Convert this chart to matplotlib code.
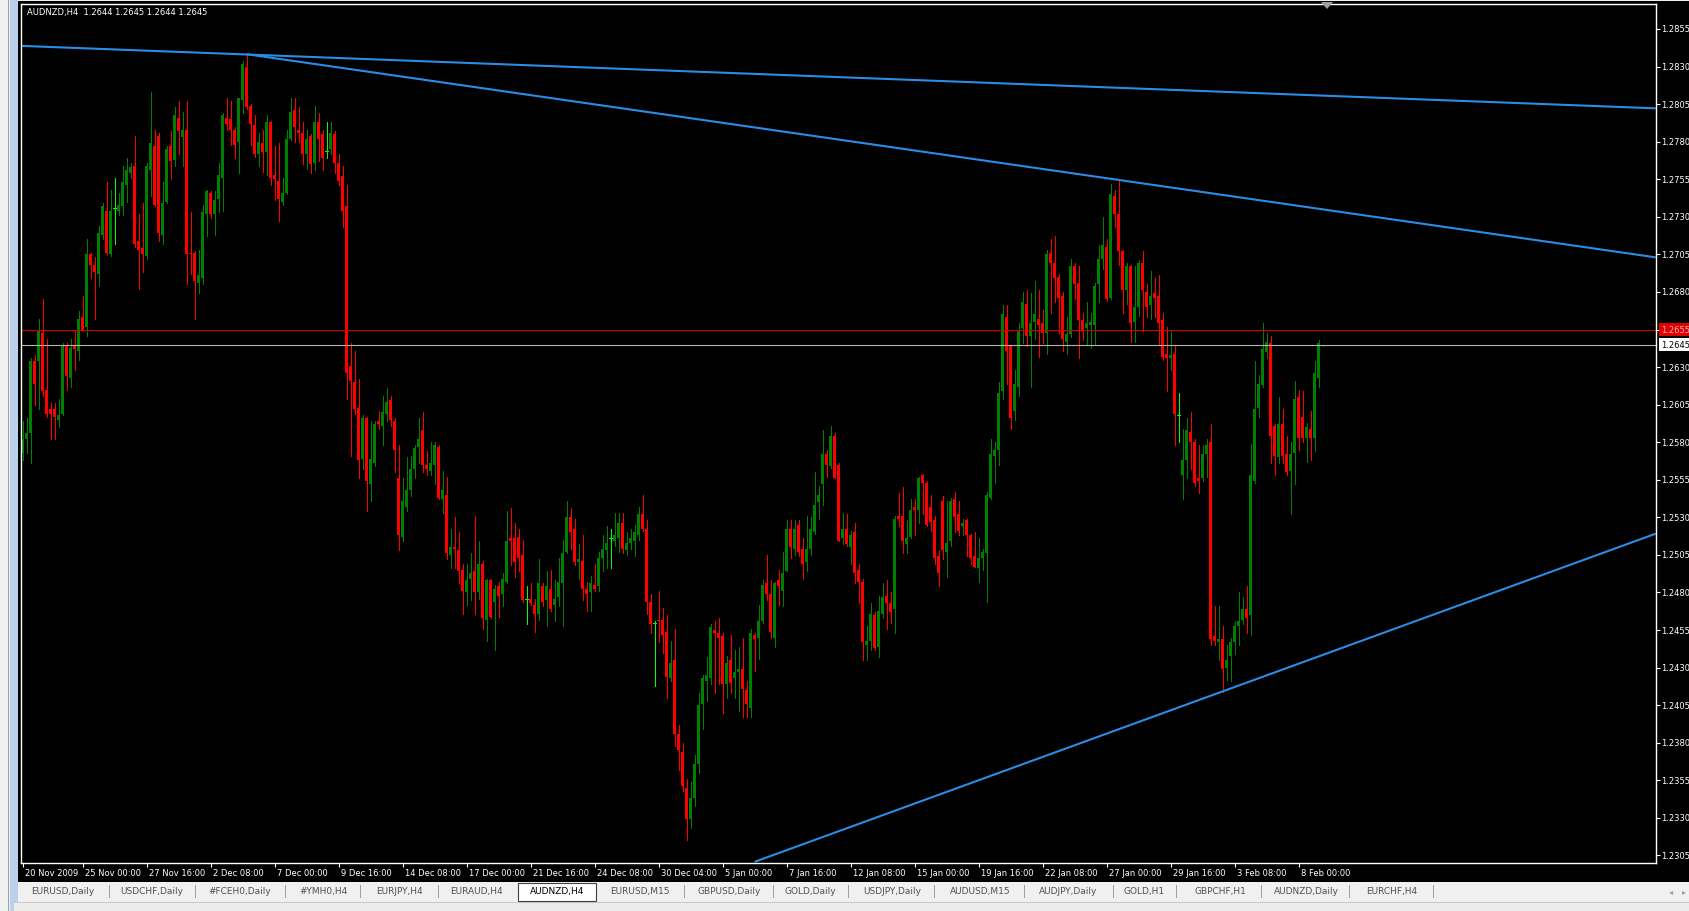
#Nachbau eines MT4-Charts AUDNZD H4 mit Trendlinien
import numpy as np
import matplotlib
matplotlib.use("Agg")
import matplotlib.pyplot as plt
from matplotlib.patches import Rectangle, Polygon
import matplotlib.transforms as mtransforms

# Kerzen in Pips (2575 = 1.2575)
opens = [
    2573,2582,2586,2634,2634,2653,2615,2602,2602,2595, 2599,2644,2623,2644,2641,2663,2657,2705,2698,2692,
    2718,2734,2705,2736,2734,2737,2751,2759,2764,2714, 2709,2704,2761,2777,2784,2718,2740,2777,2768,2796,
    2783,2788,2706,2706,2686,2689,2732,2746,2732,2742, 2756,2796,2795,2788,2780,2808,2830,2804,2791,2772,
    2779,2773,2793,2758,2754,2740,2746,2782,2801,2788, 2786,2772,2784,2766,2793,2785,2774,2775,2785,2766,
    2757,2737,2631,2620,2603,2569,2596,2552,2566,2594, 2591,2599,2608,2594,2556,2517,2537,2548,2562,2577,
    2588,2565,2561,2565,2577,2542,2545,2505,2510,2508, 2495,2480,2489,2494,2480,2499,2462,2488,2474,2484,
    2479,2487,2516,2516,2517,2505,2476,2476,2472,2466, 2484,2475,2482,2472,2477,2486,2507,2530,2522,2500,
    2501,2482,2480,2485,2484,2503,2508,2516,2514,2516, 2526,2508,2513,2514,2518,2532,2522,2474,2460,2462,
    2462,2454,2423,2435,2386,2374,2350,2329,2343,2366, 2406,2421,2423,2455,2453,2451,2419,2435,2423,2427,
    2429,2415,2403,2452,2450,2461,2486,2479,2450,2488, 2481,2494,2522,2509,2525,2509,2500,2509,2520,2540,
    2552,2572,2564,2584,2565,2516,2522,2510,2520,2495, 2487,2445,2448,2465,2444,2466,2478,2473,2469,2531,
    2531,2512,2517,2537,2535,2558,2553,2537,2528,2504, 2541,2507,2514,2542,2532,2524,2528,2518,2504,2496,
    2503,2506,2543,2571,2575,2614,2663,2644,2601,2617, 2656,2672,2651,2660,2662,2659,2653,2706,2699,2690,
    2677,2647,2652,2697,2686,2661,2656,2658,2658,2685, 2702,2710,2676,2744,2732,2707,2681,2697,2660,2670,
    2699,2680,2671,2679,2677,2661,2639,2636,2639,2598, 2558,2568,2587,2580,2556,2556,2572,2580,2451,2447,
    2449,2430,2438,2447,2458,2462,2469,2465,2554,2603, 2618,2640,2646,2591,2570,2592,2572,2561,2573,2610,
    2597,2583,2589,2583,2623,2644]
highs = [
    2594,2596,2636,2638,2662,2675,2649,2606,2606,2609, 2646,2646,2649,2655,2667,2677,2715,2706,2703,2724,
    2739,2753,2748,2756,2746,2764,2769,2766,2784,2732, 2739,2766,2813,2788,2786,2753,2777,2787,2803,2807,
    2800,2807,2733,2707,2708,2738,2748,2747,2747,2766, 2799,2809,2807,2790,2809,2834,2838,2805,2798,2786,
    2788,2798,2794,2777,2779,2756,2788,2809,2809,2803, 2793,2788,2785,2804,2799,2788,2793,2793,2787,2772,
    2764,2751,2646,2641,2622,2598,2597,2594,2594,2601, 2611,2616,2611,2596,2578,2556,2570,2571,2578,2596,
    2600,2574,2580,2580,2578,2561,2557,2522,2530,2520, 2499,2499,2506,2531,2514,2501,2489,2489,2485,2487,
    2493,2534,2536,2526,2522,2515,2484,2486,2476,2502, 2486,2494,2495,2488,2503,2515,2541,2536,2529,2512,
    2518,2487,2491,2499,2507,2518,2524,2522,2533,2533, 2533,2520,2522,2525,2537,2545,2528,2479,2461,2481,
    2470,2465,2448,2456,2392,2380,2356,2354,2372,2413, 2425,2437,2459,2461,2463,2453,2438,2452,2442,2444,
    2450,2421,2456,2453,2472,2488,2505,2488,2487,2495, 2507,2528,2528,2528,2528,2516,2531,2530,2560,2551,
    2588,2575,2591,2586,2566,2533,2532,2521,2526,2499, 2489,2458,2473,2467,2478,2486,2488,2480,2531,2546,
    2550,2528,2542,2542,2557,2559,2554,2545,2531,2508, 2544,2541,2543,2547,2541,2529,2529,2519,2520,2516,
    2509,2547,2582,2580,2620,2671,2671,2645,2628,2659, 2680,2681,2679,2687,2681,2668,2708,2715,2717,2692,
    2680,2663,2702,2699,2697,2666,2673,2666,2686,2711, 2730,2715,2752,2748,2754,2708,2699,2698,2697,2701,
    2707,2685,2694,2689,2691,2666,2657,2655,2644,2613, 2589,2596,2600,2582,2578,2578,2582,2592,2471,2471,
    2458,2445,2450,2461,2480,2477,2484,2579,2634,2625, 2659,2653,2651,2592,2610,2602,2584,2580,2621,2615,
    2614,2593,2601,2634,2648,2645]
lows = [
    2568,2573,2566,2605,2602,2611,2597,2582,2582,2590, 2598,2615,2617,2628,2635,2655,2651,2689,2662,2684,
    2715,2705,2704,2712,2731,2731,2740,2756,2710,2682, 2693,2702,2744,2737,2714,2712,2739,2755,2764,2772,
    2764,2685,2692,2662,2679,2685,2717,2729,2718,2733, 2734,2788,2778,2769,2759,2799,2802,2778,2770,2764,
    2760,2758,2751,2741,2727,2738,2745,2781,2780,2780, 2765,2762,2759,2761,2767,2761,2769,2772,2759,2751,
    2723,2609,2571,2599,2556,2562,2534,2541,2564,2589, 2578,2594,2591,2560,2508,2514,2534,2544,2556,2566,
    2560,2558,2558,2552,2542,2533,2502,2496,2496,2486, 2466,2472,2475,2466,2476,2456,2448,2463,2442,2464,
    2471,2486,2498,2490,2494,2474,2459,2472,2454,2462, 2471,2458,2468,2461,2471,2458,2506,2509,2498,2489,
    2475,2468,2468,2481,2481,2494,2496,2496,2511,2507, 2506,2505,2509,2504,2515,2521,2466,2453,2418,2447,
    2440,2410,2421,2378,2362,2348,2315,2323,2338,2360, 2389,2408,2419,2413,2419,2400,2410,2413,2410,2401,
    2397,2397,2397,2428,2436,2460,2475,2450,2444,2472, 2471,2494,2503,2505,2504,2489,2494,2505,2519,2529,
    2538,2557,2563,2556,2514,2512,2511,2499,2486,2473, 2435,2435,2442,2442,2437,2463,2456,2460,2453,2524,
    2506,2506,2516,2518,2526,2532,2524,2521,2499,2484, 2502,2490,2511,2520,2518,2518,2504,2499,2497,2487,
    2495,2474,2542,2553,2565,2609,2619,2589,2595,2611, 2646,2644,2617,2649,2637,2646,2639,2666,2673,2653,
    2641,2639,2650,2675,2636,2648,2645,2643,2645,2673, 2695,2674,2675,2723,2698,2666,2672,2647,2647,2664,
    2654,2663,2662,2663,2645,2635,2614,2628,2578,2580, 2542,2556,2562,2551,2546,2554,2557,2445,2445,2435,
    2414,2422,2421,2439,2445,2459,2453,2452,2553,2597, 2617,2636,2566,2558,2566,2566,2558,2532,2552,2575,
    2580,2567,2568,2574,2617,2644]
closes = [
    2582,2586,2634,2619,2655,2614,2599,2599,2597,2598, 2644,2624,2643,2642,2662,2655,2705,2698,2693,2719,
    2737,2706,2734,2736,2738,2753,2761,2763,2712,2708, 2705,2764,2779,2738,2719,2739,2775,2767,2798,2787,
    2788,2705,2705,2687,2691,2733,2747,2732,2741,2758, 2798,2792,2788,2778,2809,2832,2803,2792,2772,2780,
    2773,2793,2756,2755,2742,2746,2782,2800,2790,2786, 2772,2782,2765,2793,2782,2769,2774,2786,2766,2754,
    2734,2626,2621,2602,2568,2596,2554,2569,2592,2592, 2600,2607,2595,2575,2518,2541,2548,2562,2576,2582,
    2565,2562,2566,2578,2543,2548,2506,2510,2509,2494, 2481,2488,2493,2480,2499,2463,2488,2464,2482,2478,
    2489,2514,2514,2500,2503,2475,2476,2473,2466,2486, 2474,2484,2469,2476,2487,2506,2530,2520,2500,2502,
    2482,2479,2486,2482,2503,2509,2513,2516,2518,2526, 2509,2513,2516,2520,2532,2522,2474,2459,2460,2461,
    2452,2424,2433,2386,2375,2351,2329,2343,2366,2405, 2423,2425,2457,2453,2450,2419,2433,2420,2427,2429,
    2416,2406,2453,2449,2461,2485,2479,2454,2486,2484, 2493,2522,2510,2522,2507,2499,2509,2522,2538,2545,
    2572,2565,2584,2556,2514,2522,2512,2518,2493,2487, 2447,2448,2466,2443,2468,2477,2473,2467,2529,2529,
    2514,2516,2535,2535,2556,2553,2525,2527,2503,2493, 2508,2513,2541,2530,2521,2526,2518,2503,2497,2503,
    2507,2545,2572,2575,2613,2665,2641,2596,2619,2655, 2673,2651,2659,2665,2658,2653,2705,2699,2689,2676,
    2649,2652,2697,2685,2661,2654,2659,2660,2684,2702, 2711,2675,2745,2732,2707,2681,2697,2659,2670,2699,
    2681,2670,2677,2676,2659,2637,2636,2638,2599,2598, 2568,2588,2580,2553,2554,2572,2578,2449,2448,2449,
    2429,2435,2447,2458,2461,2469,2463,2558,2602,2619, 2642,2647,2584,2571,2592,2571,2560,2572,2609,2583,
    2583,2590,2583,2626,2646,2645]

# Zeitachse: Bar-Index und Beschriftung
date_bars = [0, 15, 31, 47, 63, 79, 95, 111, 127, 143, 159, 175, 191, 207, 223, 239, 255, 271, 287, 303, 319]
date_labels = ["20 Nov 2009", "25 Nov 00:00", "27 Nov 16:00", "2 Dec 08:00", "7 Dec 00:00", "9 Dec 16:00",
               "14 Dec 08:00", "17 Dec 00:00", "21 Dec 16:00", "24 Dec 08:00", "30 Dec 04:00", "5 Jan 00:00",
               "7 Jan 16:00", "12 Jan 08:00", "15 Jan 00:00", "19 Jan 16:00", "22 Jan 08:00", "27 Jan 00:00",
               "29 Jan 16:00", "3 Feb 08:00", "8 Feb 00:00"]
price_ticks = [1.2305, 1.2330, 1.2355, 1.2380, 1.2405, 1.2430, 1.2455, 1.2480, 1.2505, 1.2530, 1.2555, 1.2580,
               1.2605, 1.2630, 1.2655, 1.2680, 1.2705, 1.2730, 1.2755, 1.2780, 1.2805, 1.2830, 1.2855]

# Trendlinien: (Bar, Preis) Ankerpunkte
trend_top = [(0, 1.28437), (408, 1.28022)]
trend_mid = [(56, 1.28382), (408, 1.27031)]
trend_low = [(183, 1.23008), (408, 1.25189)]

ask_price = 1.2655
bid_price = 1.2645
title = "AUDNZD,H4  1.2644 1.2645 1.2644 1.2645"
tabs = ["EURUSD,Daily", "USDCHF,Daily", "#FCEH0,Daily", "#YMH0,H4", "EURJPY,H4", "EURAUD,H4", "AUDNZD,H4",
        "EURUSD,M15", "GBPUSD,Daily", "GOLD,Daily", "USDJPY,Daily", "AUDUSD,M15", "AUDJPY,Daily", "GOLD,H1",
        "GBPCHF,H1", "AUDNZD,Daily", "EURCHF,H4"]
active_tab = "AUDNZD,H4"

GREEN = "#008000"
RED = "#ff0000"
LIME = "#00ff00"
BLUE = "#2b8ce8"

W, H = 1690, 912
fig = plt.figure(figsize=(W / 100, H / 100), dpi=100, facecolor="#f0f0f0")


def px_rect(x0, y0, x1, y1, z=-5, **kw):
    # Rechteck in Pixelkoordinaten (y von oben)
    r = Rectangle((x0 / W, 1 - y1 / H), (x1 - x0) / W, (y1 - y0) / H, transform=fig.transFigure,
                  zorder=z, **kw)
    fig.add_artist(r)


def px_text(x, y, s, **kw):
    fig.text(x / W, 1 - y / H, s, zorder=5, **kw)


# Fensterrahmen
px_rect(10, 0, 18, H, fc="#b9d1ea", ec="none")
px_rect(8, 0, 9, H, fc="#a0a0a0", ec="none")
px_rect(18, 2, W, 883, fc="black", ec="none")

# Chartbereich
ax_l, ax_r, ax_t, ax_b = 21, 1655.7, 5, 864
ax = fig.add_axes([ax_l / W, 1 - ax_b / H, (ax_r - ax_l) / W, (ax_b - ax_t) / H])
ax.set_facecolor("black")
for s in ax.spines.values():
    s.set_color("white")
    s.set_linewidth(1)

o = 1 + np.array(opens) / 10000
h = 1 + np.array(highs) / 10000
l = 1 + np.array(lows) / 10000
c = 1 + np.array(closes) / 10000
x = np.arange(len(c))

up = c > o
dn = c < o
dj = c == o

ax.vlines(x[up], l[up], h[up], color=GREEN, lw=0.72, antialiased=False)
ax.vlines(x[dn], l[dn], h[dn], color=RED, lw=0.72, antialiased=False)
ax.vlines(x[dj], l[dj], h[dj], color=LIME, lw=0.72, antialiased=False)
ax.bar(x[up], c[up] - o[up], bottom=o[up], width=0.75, color=GREEN, linewidth=0, antialiased=False)
ax.bar(x[dn], o[dn] - c[dn], bottom=c[dn], width=0.75, color=RED, linewidth=0, antialiased=False)
ax.hlines(o[dj], x[dj] - 0.375, x[dj] + 0.375, color=LIME, lw=0.72, antialiased=False)

# Ask- und Bid-Linie
ax.axhline(ask_price, color="#d00000", lw=0.8)
ax.axhline(bid_price, color="#b4b4b4", lw=0.8)

# Trendlinien
x_left, x_right = -0.425, 408.25
for (b0, p0), (b1, p1) in [trend_top, trend_mid, trend_low]:
    slope = (p1 - p0) / (b1 - b0)
    xs = np.array([x_left if (b0, p0) == trend_top[0] else b0, x_right])
    ax.plot(xs, p0 + slope * (xs - b0), color=BLUE, lw=1.5, solid_capstyle="butt")

ax.set_xlim(x_left, x_right)
ax.set_ylim(1.2300, 1.28716)

# Achsen-Ticks
ax.yaxis.tick_right()
ax.set_yticks(price_ticks)
ax.set_yticklabels([])
ax.set_xticks(date_bars)
ax.set_xticklabels([])
ax.tick_params(axis="both", colors="white", length=3, width=0.8, direction="out")

offx = mtransforms.ScaledTranslation(2 / 100, -5 / 100, fig.dpi_scale_trans)
for b, lab in zip(date_bars, date_labels):
    ax.text(b, 0, lab, transform=ax.get_xaxis_transform() + offx, color="white", fontsize=6,
            ha="left", va="top", clip_on=False)

offy = mtransforms.ScaledTranslation(5 / 100, 0, fig.dpi_scale_trans)
for p in price_ticks:
    if abs(p - ask_price) < 0.0001:
        continue
    ax.text(1, p, f"{p:.4f}", transform=ax.get_yaxis_transform() + offy, color="white", fontsize=6,
            ha="left", va="center", clip_on=False)

ax.text(1, ask_price, f"{ask_price:.4f}", transform=ax.get_yaxis_transform() + offy, color="#ffb0b0",
        fontsize=6, ha="left", va="center", clip_on=False,
        bbox=dict(boxstyle="square,pad=0.2", fc="#e00000", ec="none"))
ax.text(1, bid_price, f"{bid_price:.4f}", transform=ax.get_yaxis_transform() + offy, color="black",
        fontsize=6, ha="left", va="center", clip_on=False,
        bbox=dict(boxstyle="square,pad=0.2", fc="white", ec="none"))

# Titel oben links
px_text(27, 13, title, color="white", fontsize=6, ha="left", va="center")

# Shift-Markierung oben
fig.add_artist(Polygon([(1321 / W, 1 - 3 / H), (1333 / W, 1 - 3 / H), (1327 / W, 1 - 10 / H)],
                       closed=True, fc="#a0a0a0", ec="none", transform=fig.transFigure, zorder=5))

# Reiterleiste unten
px_rect(14, 903, W, 912, fc="#ececec", ec="none")
px_rect(14, 903, W, 904, fc="#c8c8c8", ec="none")
tab_x = [63, 152, 240, 323, 399, 476, 557, 640, 729, 810, 892, 980, 1068, 1144, 1220, 1306, 1392]
sep_x = [109, 195, 285, 360, 438, 515, 598, 684, 773, 848, 934, 1024, 1113, 1176, 1261, 1349, 1433]
for tx, name in zip(tab_x, tabs):
    if name == active_tab:
        px_rect(518, 884, 596, 902, z=4, fc="white", ec="#404040", lw=0.8)
        px_text(tx, 892, name, color="black", fontsize=6.5, ha="center", va="center")
    else:
        px_text(tx, 892, name, color="#505050", fontsize=6.5, ha="center", va="center")
for sx in sep_x:
    if 515 <= sx <= 598:
        continue
    px_rect(sx, 886, sx + 1, 899, z=4, fc="#a0a0a0", ec="none")
px_text(1671, 892, "\u25c2", color="#a0a0a0", fontsize=6, ha="center", va="center")
px_text(1684, 892, "\u25b8", color="#a0a0a0", fontsize=6, ha="center", va="center")

plt.savefig("out.png", dpi=100, facecolor=fig.get_facecolor())
